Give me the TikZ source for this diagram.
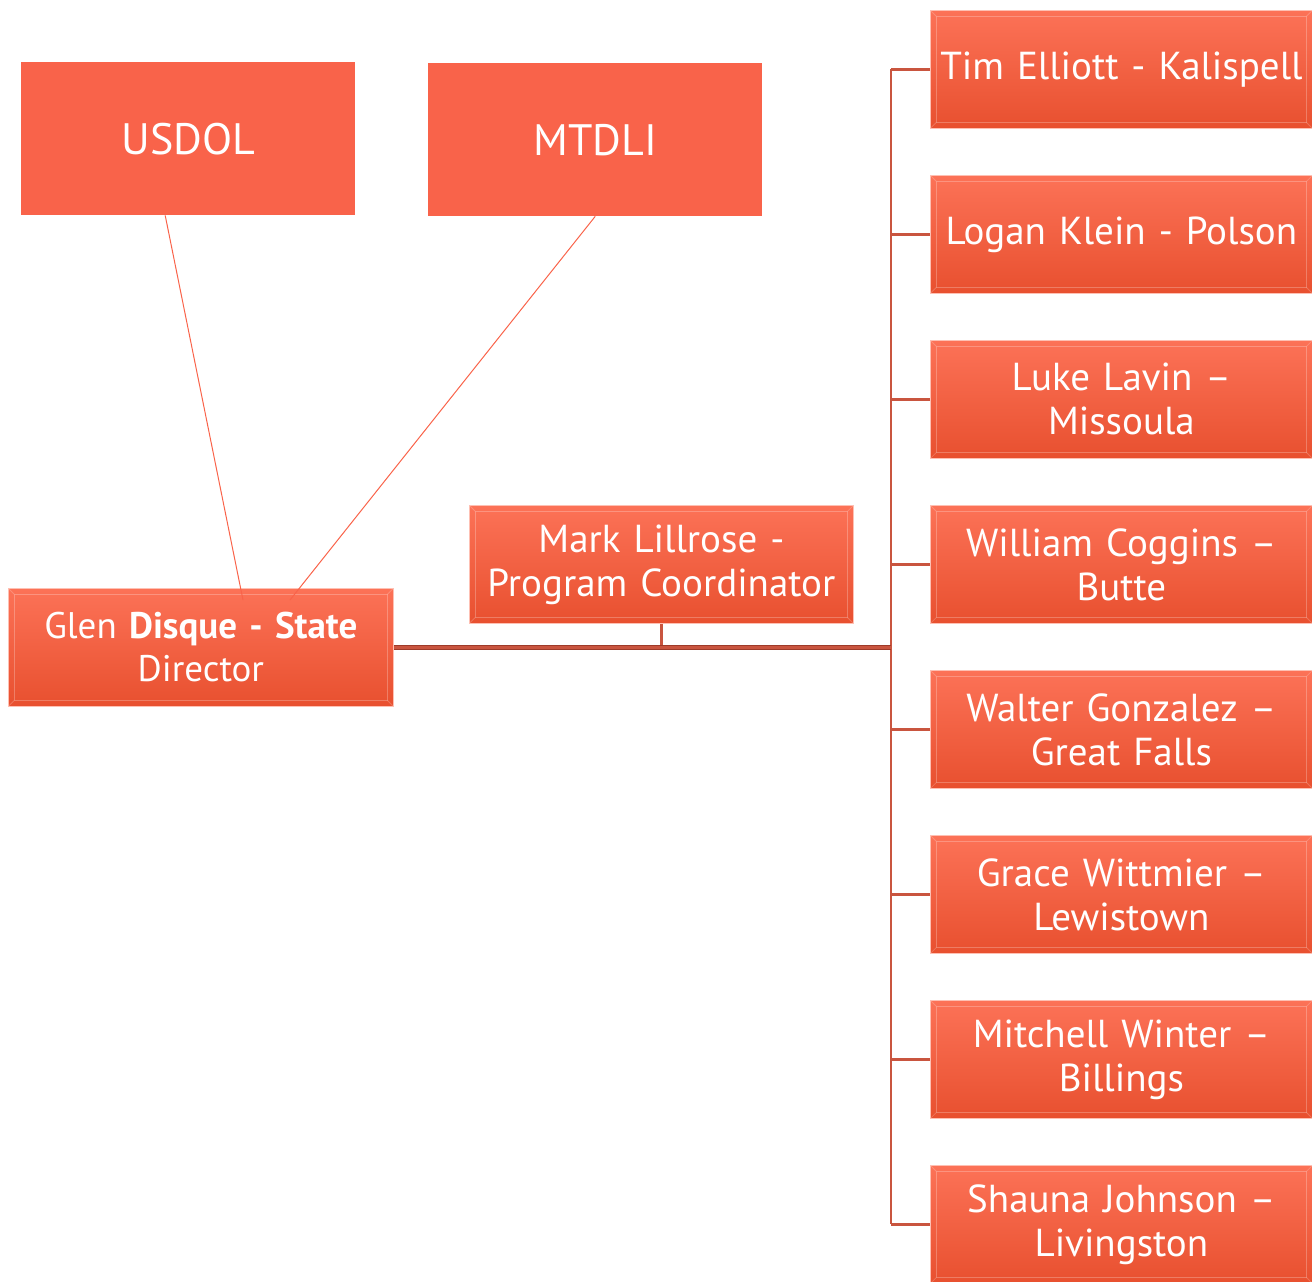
\documentclass[tikz,border=0pt]{standalone}
\usepackage{fontspec}
\setmainfont{PT Sans}
\definecolor{boxtop}{HTML}{FC7257}
\definecolor{boxbot}{HTML}{E8502F}
\definecolor{flatbox}{HTML}{F9634A}
\definecolor{linkred}{HTML}{C9553F}
\definecolor{linkdark}{HTML}{9E3B2A}
\tikzset{
  staffbox/.style={rectangle, anchor=north west, inner sep=0pt,
    minimum width=382pt, minimum height=118pt, text width=380pt, align=center,
    top color=boxtop, bottom color=boxbot, draw=boxtop!45!white, line width=0.8pt,
    text=white, font=\fontsize{39}{44}\selectfont,
    path picture={
      \draw[white, opacity=0.25, line width=1pt]
        ([shift={(6pt,-6pt)}]path picture bounding box.north west) rectangle
        ([shift={(-6pt,6pt)}]path picture bounding box.south east);
      \draw[white, opacity=0.2, line width=0.8pt]
        (path picture bounding box.north west) -- ++(6pt,-6pt)
        (path picture bounding box.north east) -- ++(-6pt,-6pt)
        (path picture bounding box.south west) -- ++(6pt,6pt)
        (path picture bounding box.south east) -- ++(-6pt,6pt);
    }},
  topbox/.style={rectangle, anchor=north west, inner sep=0pt,
    minimum width=334pt, minimum height=153pt, fill=flatbox,
    text=white, font=\fontsize{44}{48}\selectfont},
  thinlink/.style={draw=flatbox, line width=1pt},
  link/.style={draw=linkred, line width=2.5pt},
  mainlink/.style={draw=linkdark, double=linkred, double distance=2.5pt, line width=1pt},
}
\begin{document}
\begin{tikzpicture}[x=1pt,y=-1pt]
\useasboundingbox (0,0) rectangle (1312,1282);
% agencies
\node[topbox] (usdol) at (21,62) {USDOL};
\node[topbox] (mtdli) at (428,63) {MTDLI};
% director and coordinator
\node[staffbox, minimum width=385pt, text width=383pt, font=\fontsize{37}{43}\selectfont] (glen) at (8,588)
  {Glen \textbf{Disque - State}\\Director};
\node[staffbox, minimum width=384pt, text width=382pt] (mark) at (469,505)
  {Mark Lillrose -\\Program Coordinator};
% field staff
\foreach \i/\who in {1/{Tim Elliott - Kalispell},
                     2/{Logan Klein - Polson},
                     3/{Luke Lavin --\\Missoula},
                     4/{William Coggins --\\Butte},
                     5/{Walter Gonzalez --\\Great Falls},
                     6/{Grace Wittmier --\\Lewistown},
                     7/{Mitchell Winter --\\Billings},
                     8/{Shauna Johnson --\\Livingston}}
  \node[staffbox] (r\i) at (930,{10+165*(\i-1)}) {\who};
% connectors
\coordinate (bus) at (891,0);
\coordinate (g1) at (243,600);
\coordinate (g2) at (290,600);
\draw[thinlink] ([xshift=-23pt]usdol.south) -- (g1);
\draw[thinlink] (mtdli.south) -- (g2);
\draw[link] (r1.west -| bus) -- (r8.west -| bus);
\foreach \i in {1,...,8}
  \draw[link] (r\i.west) -- (r\i.west -| bus);
\draw[link] (mark.south) -- (mark.south |- glen.east);
\draw[mainlink] (glen.east) -- (glen.east -| bus);
\end{tikzpicture}
\end{document}
